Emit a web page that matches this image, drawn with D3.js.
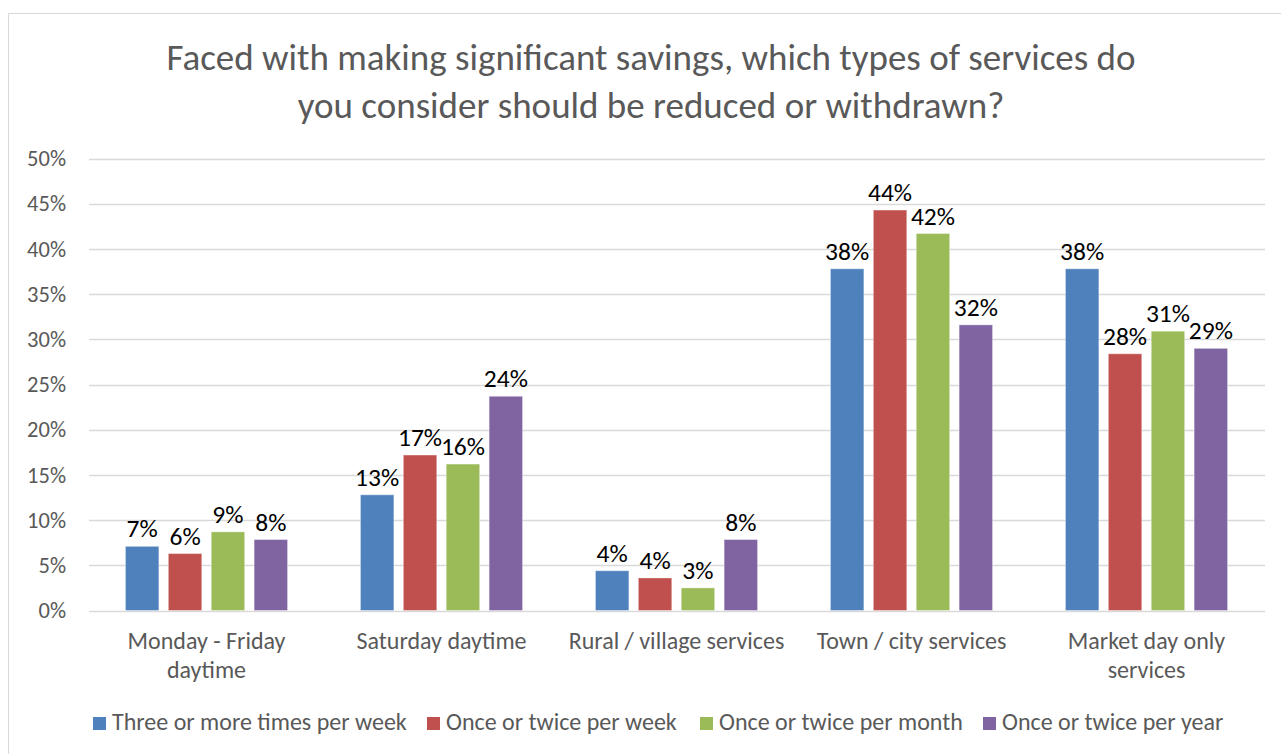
<!DOCTYPE html>
<html>
<head>
<meta charset="utf-8">
<script src="https://cdn.jsdelivr.net/npm/d3@7"></script>
<style>
  body { margin: 0; background: #fff; }
  svg text { font-family: Carlito, "Open Sans", sans-serif; }
</style>
</head>
<body>
<svg width="1281" height="754"></svg>
<script>
var categories = [["Monday - Friday", "daytime"], ["Saturday daytime"], ["Rural / village services"], ["Town / city services"], ["Market day only", "services"]];
var series = ["Three or more times per week", "Once or twice per week", "Once or twice per month", "Once or twice per year"];
var colors = ["#4F81BD", "#C0504D", "#9BBB59", "#8064A2"];
// one array per series, in category order
var threePlus = [7.1, 12.8, 4.4, 37.8, 37.8];
var weekly = [6.3, 17.2, 3.6, 44.3, 28.4];
var monthly = [8.7, 16.2, 2.5, 41.7, 30.9];
var yearly = [7.85, 23.7, 7.85, 31.6, 29.0];
var yTicks = [0, 5, 10, 15, 20, 25, 30, 35, 40, 45, 50];
var title = ["Faced with making significant savings, which types of services do", "you consider should be reduced or withdrawn?"];

var values = [threePlus, weekly, monthly, yearly];

var svg = d3.select("svg");

// chart frame
svg.append("rect")
  .attr("x", 8.5).attr("y", 13.5)
  .attr("width", 1290).attr("height", 760)
  .attr("fill", "#fff").attr("stroke", "#d9d9d9");

var x0 = d3.scaleBand()
  .domain(d3.range(categories.length))
  .range([89, 1264])
  .paddingInner(0.31)
  .paddingOuter(0.155);

var x1 = d3.scaleBand()
  .domain(d3.range(series.length))
  .range([0, x0.bandwidth()])
  .paddingInner(0.22);

var y = d3.scaleLinear().domain([0, 50]).range([610.5, 158.5]);

// title
svg.append("text")
  .attr("text-anchor", "middle")
  .attr("fill", "#595959")
  .style("font-size", "37px")
  .selectAll("tspan")
  .data(title)
  .enter().append("tspan")
  .attr("x", 651)
  .attr("y", function (d, i) { return 70 + i * 48; })
  .text(function (d) { return d; });

// gridlines
svg.append("g").selectAll("line")
  .data(yTicks)
  .enter().append("line")
  .attr("x1", 89).attr("x2", 1265)
  .attr("y1", function (d) { return Math.round(y(d)) + 0.5; })
  .attr("y2", function (d) { return Math.round(y(d)) + 0.5; })
  .attr("stroke", "#d9d9d9")
  .attr("stroke-width", 1.3);

// y axis labels
var yAxis = svg.append("g")
  .attr("transform", "translate(89,0)")
  .call(d3.axisLeft(y).tickValues(yTicks).tickSize(0).tickPadding(23).tickFormat(function (d) { return d + "%"; }));
yAxis.select(".domain").remove();
yAxis.selectAll("text")
  .attr("fill", "#595959")
  .style("font-size", "22.5px")
  .style("font-family", "Carlito, 'Open Sans', sans-serif");

// bars
var groups = svg.append("g").selectAll("g")
  .data(values)
  .enter().append("g")
  .attr("fill", function (d, i) { return colors[i]; });

groups.selectAll("rect")
  .data(function (d, i) { return d.map(function (v, c) { return { s: i, c: c, v: v }; }); })
  .enter().append("rect")
  .attr("x", function (d) { return x0(d.c) + x1(d.s); })
  .attr("y", function (d) { return y(d.v); })
  .attr("width", x1.bandwidth())
  .attr("height", function (d) { return y(0) - y(d.v); })
  .attr("stroke", "#fff")
  .attr("stroke-opacity", 0.4);

// data labels
groups.selectAll("text")
  .data(function (d, i) { return d.map(function (v, c) { return { s: i, c: c, v: v }; }); })
  .enter().append("text")
  .attr("x", function (d) { return x0(d.c) + x1(d.s) + x1.bandwidth() / 2; })
  .attr("y", function (d) { return y(d.v) - 9; })
  .attr("text-anchor", "middle")
  .attr("fill", "#000")
  .style("font-size", "25.5px")
  .text(function (d) { return Math.round(d.v) + "%"; });

// category labels
svg.append("g").selectAll("text")
  .data(categories)
  .enter().append("text")
  .attr("text-anchor", "middle")
  .attr("fill", "#595959")
  .style("font-size", "24px")
  .each(function (d, i) {
    d3.select(this).selectAll("tspan")
      .data(d)
      .enter().append("tspan")
      .attr("x", x0(i) + x0.bandwidth() / 2)
      .attr("y", function (t, j) { return 649 + j * 29; })
      .text(function (t) { return t; });
  });

// legend
var legendX = [93, 427, 700, 983];
var legend = svg.append("g").selectAll("g")
  .data(series)
  .enter().append("g")
  .attr("transform", function (d, i) { return "translate(" + legendX[i] + ",717)"; });
legend.append("rect")
  .attr("width", 13).attr("height", 13)
  .attr("fill", function (d, i) { return colors[i]; });
legend.append("text")
  .attr("x", 19).attr("y", 13)
  .attr("fill", "#595959")
  .style("font-size", "24px")
  .text(function (d) { return d; });
</script>
</body>
</html>
